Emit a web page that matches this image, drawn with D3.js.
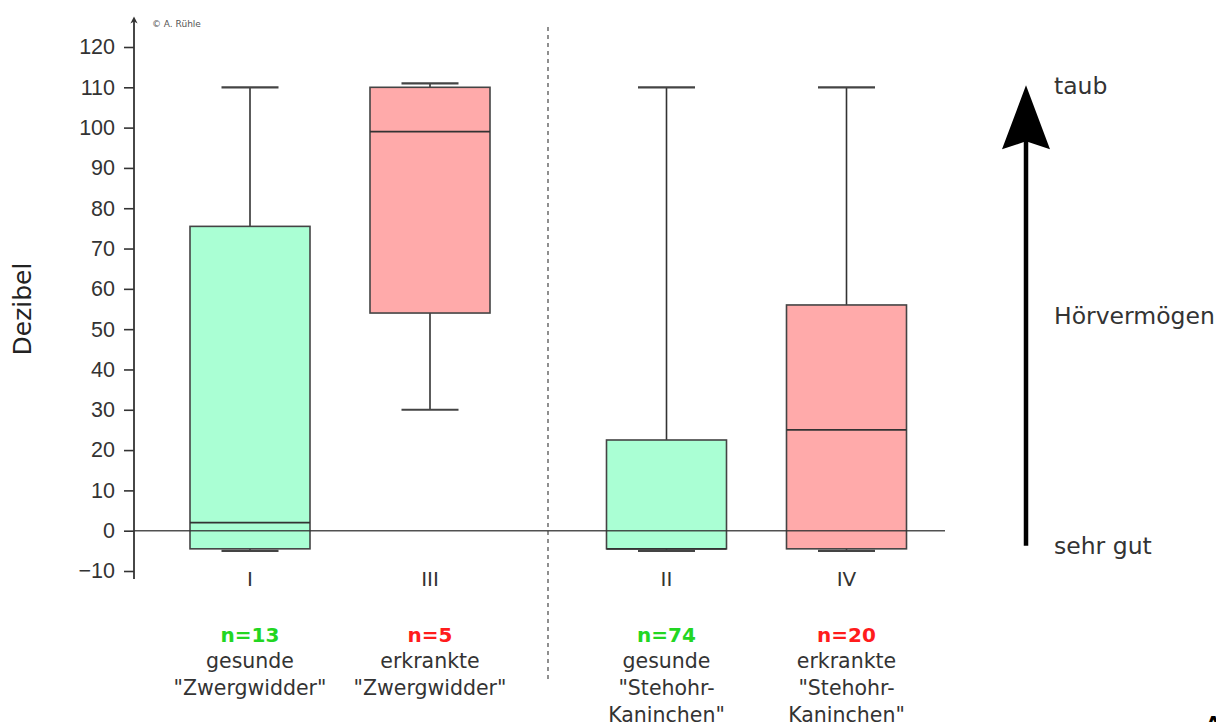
<!DOCTYPE html>
<head>
  <meta charset="utf-8">
  <style>
    body {
      margin: 0;
      background: #fff;
      font-family: 'DejaVu Sans', sans-serif;
    }
    svg { display: block; }
    .y-axis .tick text { fill: #333; font-size: 21.5px; }
    .y-axis .tick line { stroke: #333; stroke-width: 1.6; }
  </style>
  <script src="https://cdn.jsdelivr.net/npm/d3@7"></script>
</head>
<body>
<div id=chart></div>
<script>
// data (hearing test in dB)
const groups = ['I', 'III', 'II', 'IV']
const breeds = ['Zwergwidder', 'Stehohr']
const healthStates = ['gesunde', 'erkrankte']
const groupBreed = ['Zwergwidder', 'Zwergwidder', 'Stehohr', 'Stehohr']
const groupHealth = ['gesunde', 'erkrankte', 'gesunde', 'erkrankte']
const breedLabels = [['"Zwergwidder"'], ['"Stehohr-', 'Kaninchen"']]
const nCounts = [13, 5, 74, 20]
const whiskerTop = [110, 111, 110, 110]
const boxTop = [75.5, 110, 22.5, 56]
const medians = [2, 99, -4.5, 25]
const boxBottom = [-4.5, 54, -4.5, -4.5]
const whiskerBottom = [-5, 30, -5, -5]
const yTicks = [-10, 0, 10, 20, 30, 40, 50, 60, 70, 80, 90, 100, 110, 120]
const hearingLabels = ['taub', 'Hörvermögen', 'sehr gut']
const hearingLevels = [110, 53, -4]

const width = 1216, height = 722
const axisX = 134
const boxW = 120, capW = 57
const fills = { gesunde: '#aaffd4', erkrankte: '#ffaaaa' }
const nColors = { gesunde: '#22d622', erkrankte: '#ff1c1c' }
const ink = '#333'

const y = d3.scaleLinear([-10, 120], [571, 47])
const xBreed = d3.scalePoint(breeds, [340, 756.5])
const xHealth = d3.scalePoint(healthStates, [-90, 90])
const cx = i => xBreed(groupBreed[i]) + xHealth(groupHealth[i])

const svg = d3.create('svg')
  .attr('width', width)
  .attr('height', height)
  .attr('viewBox', [0, 0, width, height])
d3.select('#chart').append(() => svg.node())

const defs = svg.append('defs')
defs.append('marker')
  .attr('id', 'axis-arrow')
  .attr('viewBox', '0 0 10 10')
  .attr('refX', 5).attr('refY', 5)
  .attr('markerWidth', 4).attr('markerHeight', 4)
  .attr('orient', 'auto')
  .append('path')
  .attr('d', 'M0,0 L10,5 L0,10 L3,5 Z')
  .attr('fill', ink)

// y axis
const gAxis = svg.append('g')
  .attr('class', 'y-axis')
  .attr('transform', `translate(${axisX},0)`)
  .call(d3.axisLeft(y).tickValues(yTicks).tickSize(10).tickPadding(9))
gAxis.select('.domain').remove()
gAxis.append('line')
  .attr('x1', 0).attr('x2', 0)
  .attr('y1', y(-12)).attr('y2', 20)
  .attr('stroke', ink)
  .attr('stroke-width', 1.8)
  .attr('marker-end', 'url(#axis-arrow)')

svg.append('text')
  .attr('transform', `translate(${axisX + 18},27)`)
  .attr('font-size', 9)
  .attr('fill', '#555')
  .text('© A. Rühle')

svg.append('text')
  .attr('transform', `translate(31,${y(55)}) rotate(-90)`)
  .attr('text-anchor', 'middle')
  .attr('font-size', 25)
  .attr('fill', '#222')
  .text('Dezibel')

// separator between breeds
svg.append('line')
  .attr('x1', 548).attr('x2', 548)
  .attr('y1', 27).attr('y2', 680)
  .attr('stroke', '#555')
  .attr('stroke-width', 1.3)
  .attr('stroke-dasharray', '4,4')

// boxes
const idx = d3.range(groups.length)
const g = svg.append('g')

g.selectAll('.whisker').data(idx).join('line')
  .attr('x1', cx).attr('x2', cx)
  .attr('y1', i => y(whiskerBottom[i])).attr('y2', i => y(whiskerTop[i]))
  .attr('stroke', ink).attr('stroke-width', 1.6)

g.selectAll('.box').data(idx).join('rect')
  .attr('x', i => cx(i) - boxW / 2)
  .attr('width', boxW)
  .attr('y', i => y(boxTop[i]))
  .attr('height', i => y(boxBottom[i]) - y(boxTop[i]))
  .attr('fill', i => fills[groupHealth[i]])
  .attr('stroke', '#444')
  .attr('stroke-width', 1.6)

g.selectAll('.median').data(idx).join('line')
  .attr('x1', i => cx(i) - boxW / 2).attr('x2', i => cx(i) + boxW / 2)
  .attr('y1', i => y(medians[i])).attr('y2', i => y(medians[i]))
  .attr('stroke', ink).attr('stroke-width', 1.8)

const caps = idx.flatMap(i => [[i, whiskerTop[i]], [i, whiskerBottom[i]]])
g.selectAll('.cap').data(caps).join('line')
  .attr('x1', d => cx(d[0]) - capW / 2).attr('x2', d => cx(d[0]) + capW / 2)
  .attr('y1', d => y(d[1])).attr('y2', d => y(d[1]))
  .attr('stroke', '#444').attr('stroke-width', 2.2)

// zero line
svg.append('line')
  .attr('x1', axisX).attr('x2', 945)
  .attr('y1', y(0)).attr('y2', y(0))
  .attr('stroke', ink)
  .attr('stroke-opacity', 0.85)
  .attr('stroke-width', 1.5)

// category labels
const labels = svg.append('g').attr('text-anchor', 'middle')
labels.selectAll('.roman').data(idx).join('text')
  .attr('x', cx).attr('y', 586)
  .attr('font-size', 20).attr('fill', ink)
  .text(i => groups[i])

labels.selectAll('.n').data(idx).join('text')
  .attr('x', cx).attr('y', 642)
  .attr('font-size', 20).attr('font-weight', 'bold')
  .attr('fill', i => nColors[groupHealth[i]])
  .text(i => `n=${nCounts[i]}`)

labels.selectAll('.desc').data(idx).join('text')
  .attr('x', cx).attr('y', 668)
  .attr('font-size', 20.5).attr('fill', ink)
  .selectAll('tspan')
  .data(i => [groupHealth[i], ...breedLabels[breeds.indexOf(groupBreed[i])]])
  .join('tspan')
  .attr('x', function () { return d3.select(this.parentNode).attr('x') })
  .attr('dy', (d, j) => j ? 27 : 0)
  .text(d => d)

// hearing arrow on the right
const arrowX = 1026
svg.append('line')
  .attr('x1', arrowX).attr('x2', arrowX)
  .attr('y1', y(hearingLevels[2]) - 1).attr('y2', y(hearingLevels[0]) + 50)
  .attr('stroke', '#000').attr('stroke-width', 4.5)
const tipY = y(hearingLevels[0]) - 2
svg.append('path')
  .attr('d', `M${arrowX},${tipY} L${arrowX + 24},${tipY + 64} L${arrowX},${tipY + 56} L${arrowX - 24},${tipY + 64} Z`)
  .attr('fill', '#000')

svg.append('g').selectAll('text').data(hearingLabels).join('text')
  .attr('x', 1054)
  .attr('y', (d, i) => y(hearingLevels[i]) + 7)
  .attr('font-size', 23.5)
  .attr('fill', ink)
  .text(d => d)

// cropped panel letter at the corner
svg.append('text')
  .attr('x', 1201).attr('y', 742)
  .attr('font-size', 36)
  .attr('fill', '#000')
  .text('A')
</script>
</body>
